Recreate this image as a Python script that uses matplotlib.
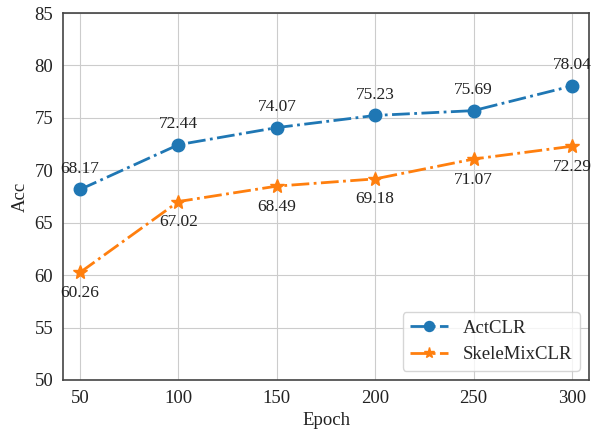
import matplotlib
matplotlib.use('Agg')
import matplotlib.pyplot as plt
import seaborn as sns

epochs = [50, 100, 150, 200, 250, 300]
actclr = [68.17, 72.44, 74.07, 75.23, 75.69, 78.04]
skelemix = [60.26, 67.02, 68.49, 69.18, 71.07, 72.29]

sns.set_style('whitegrid')
plt.rcParams['font.family'] = ['Liberation Serif', 'DejaVu Serif']
plt.rcParams['mathtext.fontset'] = 'stix'

fig = plt.figure(figsize=(5.91, 4.41), dpi=100)
ax = fig.add_axes([63/591, 1 - 380/441, 526/591, 367/441])

ax.plot(epochs, actclr, '-.', marker='o', color='#1f77b4', lw=2, ms=9, label='ActCLR')
ax.plot(epochs, skelemix, '-.', marker='*', color='#ff7f0e', lw=2, ms=10, label='SkeleMixCLR')

# value labels: above for ActCLR, below for SkeleMixCLR
for x, y in zip(epochs, actclr):
    ax.annotate(f'{y:.2f}', (x, y), xytext=(0, 9), textcoords='offset points',
                ha='center', va='bottom', fontsize=12.5, color='#222222')
for x, y in zip(epochs, skelemix):
    ax.annotate(f'{y:.2f}', (x, y), xytext=(0, -9), textcoords='offset points',
                ha='center', va='top', fontsize=12.5, color='#222222')

ax.set_xlim(41.3, 308.7)
ax.set_ylim(50, 85)
ax.set_xticks(epochs)
ax.set_yticks(range(50, 90, 5))
ax.tick_params(labelsize=13.5, colors='#222222')
ax.set_xlabel('Epoch', fontsize=13.5, color='#222222')
ax.set_ylabel('Acc', fontsize=13.5, color='#222222')

for s in ax.spines.values():
    s.set_color('#444444')
    s.set_linewidth(1.2)

ax.legend(loc='lower right', fontsize=13.5, frameon=True, markerscale=0.8)

fig.savefig('out.png', dpi=100)
